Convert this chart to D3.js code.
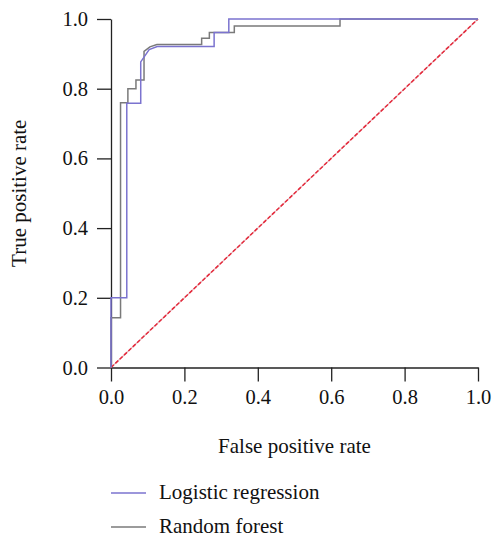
<!DOCTYPE html>
<html>
<head>
<meta charset="utf-8">
<script src="https://cdn.jsdelivr.net/npm/d3@7"></script>
<style>
  body { margin: 0; background: #fff; }
  text { font-family: "Liberation Serif", "DejaVu Serif", serif; fill: #111; }
</style>
</head>
<body>
<div id="chart"></div>
<script>
// ROC curve points
const lrFpr = [0, 0, 0.043, 0.043, 0.081, 0.081, 0.104, 0.126, 0.281, 0.281, 0.321, 0.321, 1];
const lrTpr = [0, 0.2, 0.2, 0.758, 0.758, 0.877, 0.912, 0.921, 0.921, 0.961, 0.961, 1, 1];

const rfFpr = [0, 0, 0.026, 0.026, 0.046, 0.046, 0.068, 0.068, 0.09, 0.09, 0.106, 0.125,
               0.247, 0.247, 0.268, 0.268, 0.336, 0.336, 0.624, 0.624, 1];
const rfTpr = [0, 0.143, 0.143, 0.76, 0.76, 0.8, 0.8, 0.825, 0.825, 0.907, 0.92, 0.927,
               0.927, 0.945, 0.945, 0.961, 0.961, 0.98, 0.98, 1, 1];

const chanceLine = [0, 1];
const tickValues = [0, 0.2, 0.4, 0.6, 0.8, 1.0];
const seriesNames = ['Logistic regression', 'Random forest'];
const seriesColors = ['#7b73cf', '#7a7a7a'];

const width = 492, height = 536;

const svg = d3.select('#chart').append('svg')
    .attr('width', width)
    .attr('height', height);

const x = d3.scaleLinear().domain([0, 1]).range([111, 478]);
const y = d3.scaleLinear().domain([0, 1]).range([367.5, 19]);

// axes
const xAxis = svg.append('g')
    .attr('transform', `translate(0,${y(0)})`)
    .call(d3.axisBottom(x).tickValues(tickValues).tickFormat(d3.format('.1f'))
        .tickSize(14).tickSizeOuter(0).tickPadding(8));

const yAxis = svg.append('g')
    .attr('transform', `translate(${x(0)},0)`)
    .call(d3.axisLeft(y).tickValues(tickValues).tickFormat(d3.format('.1f'))
        .tickSize(14).tickSizeOuter(0).tickPadding(9));

[xAxis, yAxis].forEach(g => {
    g.selectAll('path, line').attr('stroke', '#222').attr('stroke-width', 1.3);
    g.selectAll('text').style('font-size', '20.5px').attr('fill', '#111');
});
xAxis.selectAll('text').attr('dy', '0.71em');

// chance diagonal
const pairs = (xs, ys) => xs.map((v, i) => [v, ys[i]]);
const line = d3.line().x(d => x(d[0])).y(d => y(d[1]));

svg.append('path')
    .attr('d', line(pairs(chanceLine, chanceLine)))
    .attr('fill', 'none')
    .attr('stroke', '#e2b7bd')
    .attr('stroke-width', 1.2);
svg.append('path')
    .attr('d', line(pairs(chanceLine, chanceLine)))
    .attr('fill', 'none')
    .attr('stroke', '#e5283a')
    .attr('stroke-width', 1.5)
    .attr('stroke-dasharray', '4,2');

// ROC curves
svg.append('path')
    .attr('d', line(pairs(rfFpr, rfTpr)))
    .attr('fill', 'none')
    .attr('stroke', seriesColors[1])
    .attr('stroke-width', 1.5);

svg.append('path')
    .attr('d', line(pairs(lrFpr, lrTpr)))
    .attr('fill', 'none')
    .attr('stroke', seriesColors[0])
    .attr('stroke-width', 1.5);

// axis titles
svg.append('text')
    .attr('x', (x(0) + x(1)) / 2)
    .attr('y', 453)
    .attr('text-anchor', 'middle')
    .style('font-size', '21px')
    .text('False positive rate');

svg.append('text')
    .attr('transform', `translate(26,${(y(0) + y(1)) / 2}) rotate(-90)`)
    .attr('text-anchor', 'middle')
    .style('font-size', '21px')
    .text('True positive rate');

// legend
const legend = svg.append('g');
seriesNames.forEach((name, i) => {
    const ly = 493 + i * 34;
    legend.append('line')
        .attr('x1', 111).attr('x2', 146)
        .attr('y1', ly).attr('y2', ly)
        .attr('stroke', seriesColors[i])
        .attr('stroke-width', 1.5);
    legend.append('text')
        .attr('x', 159)
        .attr('y', ly + 5.5)
        .style('font-size', '21px')
        .text(name);
});
</script>
</body>
</html>
